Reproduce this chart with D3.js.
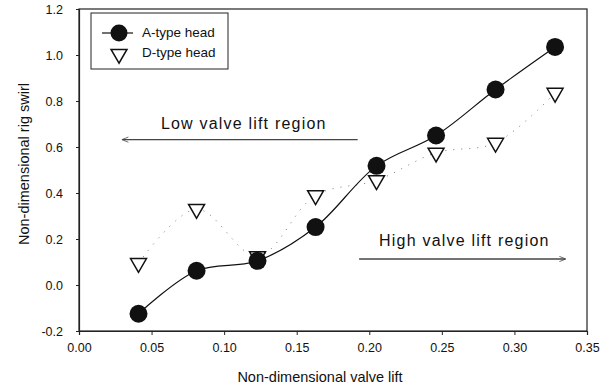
<!DOCTYPE html>
<html>
<head>
<meta charset="utf-8">
<script src="https://cdn.jsdelivr.net/npm/d3@7"></script>
<style>
  body { margin: 0; background: #fff; }
  svg text { font-family: "Liberation Sans", Arial, sans-serif; fill: #111; }
</style>
</head>
<body>
<div id="chart"></div>
<script>
var width = 608;
var height = 390;

// valve lift (x) and rig swirl for both heads
var liftA = [0.041, 0.081, 0.123, 0.163, 0.205, 0.246, 0.287, 0.328];
var swirlA = [-0.125, 0.062, 0.105, 0.252, 0.518, 0.650, 0.850, 1.035];
var liftD = [0.041, 0.081, 0.123, 0.163, 0.205, 0.246, 0.287, 0.328];
var swirlD = [0.095, 0.330, 0.125, 0.390, 0.455, 0.575, 0.618, 0.835];

var xTicks = [0.00, 0.05, 0.10, 0.15, 0.20, 0.25, 0.30, 0.35];
var yTicks = [-0.2, 0.0, 0.2, 0.4, 0.6, 0.8, 1.0, 1.2];

var seriesNames = ["A-type head", "D-type head"];

var margin = {top: 9, right: 21, bottom: 59, left: 79};

var svg = d3.select("#chart")
    .append("svg")
    .attr("width", width)
    .attr("height", height);

var x = d3.scaleLinear().domain([0, 0.35]).range([margin.left, width - margin.right]);
var y = d3.scaleLinear().domain([-0.2, 1.2]).range([height - margin.bottom, margin.top]);

svg.append("defs").append("marker")
    .attr("id", "arrow")
    .attr("viewBox", "0 0 10 10")
    .attr("refX", 9)
    .attr("refY", 5)
    .attr("markerWidth", 7)
    .attr("markerHeight", 5)
    .attr("orient", "auto-start-reverse")
    .append("path")
    .attr("d", "M0,1 L10,5 L0,9")
    .attr("fill", "none")
    .attr("stroke", "#444")
    .attr("stroke-width", 1.2);

// frame
svg.append("rect")
    .attr("x", x(0))
    .attr("y", y(1.2))
    .attr("width", x(0.35) - x(0))
    .attr("height", y(-0.2) - y(1.2))
    .attr("fill", "none")
    .attr("stroke", "#222")
    .attr("stroke-width", 1.2);

var xAxis = svg.append("g")
    .attr("transform", "translate(0," + y(-0.2) + ")")
    .call(d3.axisBottom(x).tickValues(xTicks).tickFormat(function(d){ return d.toFixed(2); }).tickSize(4).tickPadding(8));
var yAxis = svg.append("g")
    .attr("transform", "translate(" + x(0) + ",0)")
    .call(d3.axisLeft(y).tickValues(yTicks).tickFormat(function(d){ return d.toFixed(1); }).tickSize(3).tickPadding(13));

[xAxis, yAxis].forEach(function(ax){
    ax.select(".domain").attr("stroke", "#222").attr("stroke-width", 1.2);
    ax.selectAll(".tick line").attr("stroke", "#222");
    ax.selectAll("text").style("font-size", "12.5px").attr("fill", "#111");
});

svg.append("text")
    .attr("x", (x(0) + x(0.35)) / 2 - 13)
    .attr("y", 382)
    .attr("text-anchor", "middle")
    .style("font-size", "14.5px")
    .text("Non-dimensional valve lift");

svg.append("text")
    .attr("transform", "translate(29,164) rotate(-90)")
    .attr("text-anchor", "middle")
    .style("font-size", "14.5px")
    .text("Non-dimensional rig swirl");

// curves
var dataA = liftA.map(function(v, i){ return {x: v, y: swirlA[i]}; });
var dataD = liftD.map(function(v, i){ return {x: v, y: swirlD[i]}; });

var line = d3.line()
    .x(function(d){ return x(d.x); })
    .y(function(d){ return y(d.y); })
    .curve(d3.curveCatmullRom.alpha(0.5));

svg.append("path")
    .datum(dataD)
    .attr("d", line)
    .attr("fill", "none")
    .attr("stroke", "#777")
    .attr("stroke-width", 1)
    .attr("stroke-dasharray", "1,7");

svg.append("path")
    .datum(dataA)
    .attr("d", line)
    .attr("fill", "none")
    .attr("stroke", "#111")
    .attr("stroke-width", 1.2);

var tri = d3.symbol().type(d3.symbolTriangle).size(110);

svg.selectAll("path.tri")
    .data(dataD)
    .enter()
    .append("path")
    .attr("class", "tri")
    .attr("d", tri)
    .attr("transform", function(d){ return "translate(" + x(d.x) + "," + y(d.y) + ") rotate(180)"; })
    .attr("fill", "#fff")
    .attr("stroke", "#111")
    .attr("stroke-width", 1.5);

svg.selectAll("circle.pt")
    .data(dataA)
    .enter()
    .append("circle")
    .attr("class", "pt")
    .attr("cx", function(d){ return x(d.x); })
    .attr("cy", function(d){ return y(d.y); })
    .attr("r", 9)
    .attr("fill", "#111");

// region annotations
svg.append("line")
    .attr("x1", x(0.192)).attr("y1", y(0.632))
    .attr("x2", x(0.030)).attr("y2", y(0.632))
    .attr("stroke", "#444").attr("stroke-width", 1.3)
    .attr("marker-end", "url(#arrow)");
svg.append("text")
    .attr("x", x(0.1135))
    .attr("y", y(0.68))
    .attr("text-anchor", "middle")
    .style("font-size", "16px")
    .style("letter-spacing", "1.2px")
    .text("Low valve lift region");

svg.append("line")
    .attr("x1", x(0.193)).attr("y1", y(0.113))
    .attr("x2", x(0.335)).attr("y2", y(0.113))
    .attr("stroke", "#444").attr("stroke-width", 1.3)
    .attr("marker-end", "url(#arrow)");
svg.append("text")
    .attr("x", x(0.2655))
    .attr("y", y(0.169))
    .attr("text-anchor", "middle")
    .style("font-size", "16px")
    .style("letter-spacing", "1.2px")
    .text("High valve lift region");

// legend
var legend = svg.append("g").attr("transform", "translate(91,13)");
legend.append("rect")
    .attr("width", 137).attr("height", 56)
    .attr("fill", "#fff").attr("stroke", "#222").attr("stroke-width", 1);
legend.append("line")
    .attr("x1", 11).attr("x2", 42).attr("y1", 20).attr("y2", 20)
    .attr("stroke", "#111").attr("stroke-width", 1.2);
legend.append("circle")
    .attr("cx", 28).attr("cy", 20).attr("r", 8.5).attr("fill", "#111");
legend.append("path")
    .attr("d", tri)
    .attr("transform", "translate(28,41) rotate(180)")
    .attr("fill", "#fff").attr("stroke", "#111").attr("stroke-width", 1.5);
legend.selectAll("text.lg")
    .data(seriesNames)
    .enter()
    .append("text")
    .attr("class", "lg")
    .attr("x", 51)
    .attr("y", function(d, i){ return 24 + i * 20; })
    .style("font-size", "13.5px")
    .text(function(d){ return d; });
</script>
</body>
</html>
